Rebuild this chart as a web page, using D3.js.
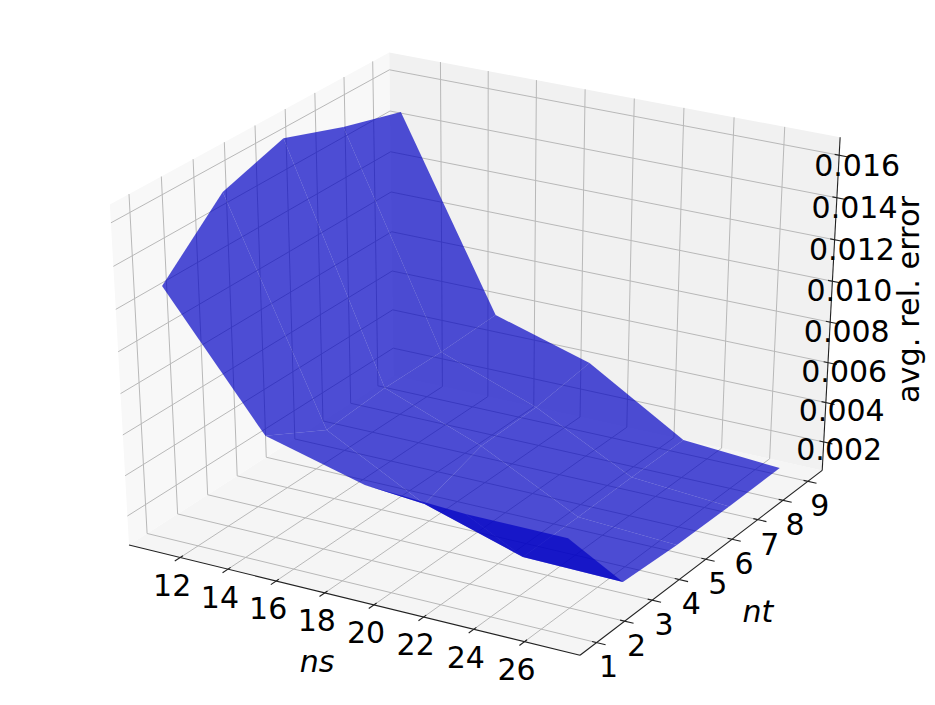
<!DOCTYPE html>
<html><head><meta charset="utf-8">
<script src="https://cdnjs.cloudflare.com/ajax/libs/d3/7.8.5/d3.min.js"></script>
<style>html,body{margin:0;padding:0;background:#fff}svg{display:block}text{font-family:"DejaVu Sans";fill:#000}</style>
</head><body><svg id="c" width="935" height="705"></svg>
<script>
// Data
const nsValues = [11, 15, 19, 23, 27];
const ntValues = [1, 3, 5, 7, 9];
const errorRow1 = [0.01288, 0.00681, 0.00554, 0.00527, 0.00526];
const errorRow3 = [0.01559, 0.00522, 0.00266, 0.00117, 0.00110];
const errorRow5 = [0.01650, 0.00545, 0.00363, 0.00118, 0.00092];
const errorRow7 = [0.01548, 0.00544, 0.00371, 0.00125, 0.00088];
const errorRow9 = [0.01466, 0.00554, 0.00413, 0.00125, 0.00090];
const errors = [errorRow1, errorRow3, errorRow5, errorRow7, errorRow9];
const nsTicks = [12, 14, 16, 18, 20, 22, 24, 26];
const ntTicks = [1, 2, 3, 4, 5, 6, 7, 8, 9];
const zTicks = [0.002, 0.004, 0.006, 0.008, 0.010, 0.012, 0.014, 0.016];

// Axis limits -> unit cube
const xS = d3.scaleLinear().domain([10.2, 27.8]).range([0, 1]);
const yS = d3.scaleLinear().domain([0.6, 9.4]).range([0, 1]);
const zS = d3.scaleLinear().domain([0.00087, 0.01651]).range([0, 1]);
const LO = -1 / 48, HI = 49 / 48;

// Perspective camera: elev 30, azim -60, dist 10
const el = 30 * Math.PI / 180, az = -60 * Math.PI / 180, dist = 10;
const n = [Math.cos(az) * Math.cos(el), Math.sin(az) * Math.cos(el), Math.sin(el)];
const nH = Math.hypot(n[0], n[1]);
const u = [-n[1] / nH, n[0] / nH, 0];
const v = [n[1] * u[2] - n[2] * u[1], n[2] * u[0] - n[0] * u[2], n[0] * u[1] - n[1] * u[0]];
const dot = (a, b) => a[0] * b[0] + a[1] * b[1] + a[2] * b[2];
const sx = d3.scaleLinear().domain([0, 1]).range([481.2, 481.2 + 4997]);
const sy = d3.scaleLinear().domain([0, 1]).range([343.1, 343.1 - 3731]);
function proj(w) {
  const d = [w[0] - .5, w[1] - .5, w[2] - .5];
  const den = dist - dot(n, d);
  return [sx(dot(u, d) / den), sy(dot(v, d) / den), den];
}
const svg = d3.select("#c");
const line = pts => "M" + pts.map(p => { const q = proj(p); return q[0].toFixed(2) + "," + q[1].toFixed(2); }).join("L");

// Panes
const panes = [
  {c: "rgb(245,245,245)", p: [[LO,LO,LO],[HI,LO,LO],[HI,HI,LO],[LO,HI,LO]]},
  {c: "rgb(248,248,248)", p: [[LO,LO,LO],[LO,HI,LO],[LO,HI,HI],[LO,LO,HI]]},
  {c: "rgb(241,241,241)", p: [[LO,HI,LO],[HI,HI,LO],[HI,HI,HI],[LO,HI,HI]]}
];
svg.append("g").selectAll("path").data(panes).join("path")
  .attr("d", d => line(d.p) + "Z").attr("fill", d => d.c);

// Grid
const grid = svg.append("g").attr("fill", "none").attr("stroke", "#b8b8b8").attr("stroke-width", 1);
nsTicks.forEach(t => { const x = xS(t); grid.append("path").attr("d", line([[x,LO,LO],[x,HI,LO],[x,HI,HI]])); });
ntTicks.forEach(t => { const y = yS(t); grid.append("path").attr("d", line([[HI,y,LO],[LO,y,LO],[LO,y,HI]])); });
zTicks.forEach(t => { const z = zS(t); grid.append("path").attr("d", line([[LO,LO,z],[LO,HI,z],[HI,HI,z]])); });

// Axis lines and ticks
const ax = svg.append("g").attr("fill", "none").attr("stroke", "#222").attr("stroke-width", 1.1);
ax.append("path").attr("d", line([[LO,LO,LO],[HI,LO,LO]]));
ax.append("path").attr("d", line([[HI,LO,LO],[HI,HI,LO]]));
ax.append("path").attr("d", line([[HI,HI,LO],[HI,HI,HI]]));
const tOut = 0.02, tIn = 0.01;
nsTicks.forEach(t => { const x = xS(t); ax.append("path").attr("d", line([[x,LO+tIn,LO],[x,LO-tOut,LO]])); });
ntTicks.forEach(t => { const y = yS(t); ax.append("path").attr("d", line([[HI-tIn,y,LO],[HI+tOut,y,LO]])); });
zTicks.forEach(t => { const z = zS(t); ax.append("path").attr("d", line([[HI-tIn,HI,z],[HI+tOut,HI,z]])); });

// Tick labels
const FS = 30;
const label = (txt, x, y) => svg.append("text").attr("x", x).attr("y", y).attr("dy", "0.364em")
  .attr("text-anchor", "middle").attr("font-size", FS).text(txt);
nsTicks.forEach(t => { const q = proj([xS(t), LO, LO]); label(d3.format("d")(t), q[0] - 8, q[1] + 27.5); });
ntTicks.forEach(t => { const q = proj([HI, yS(t), LO]); label(d3.format("d")(t), q[0] + 12, q[1] + 24); });
const zPadX = d3.scaleLinear().domain([0.002, 0.016]).range([15.5, 18]);
const zPadY = d3.scaleLinear().domain([0.002, 0.016]).range([7.5, 10]);
zTicks.forEach(t => { const q = proj([HI, HI, zS(t)]); label(d3.format(".3f")(t), q[0] + zPadX(t), q[1] + zPadY(t)); });

// Axis titles
label("ns", 317, 661).attr("font-style", "italic");
label("nt", 758, 611).attr("font-style", "italic");
svg.append("text").attr("transform", "translate(910,299.5) rotate(-90)").attr("dy", "0.3em")
  .attr("text-anchor", "middle").attr("font-size", 30.4).text("avg. rel. error");

// Surface
const faces = [];
for (let j = 0; j < ntValues.length - 1; j++) for (let i = 0; i < nsValues.length - 1; i++) {
  const pts = [[i,j],[i+1,j],[i+1,j+1],[i,j+1]].map(([a,b]) => [xS(nsValues[a]), yS(ntValues[b]), zS(errors[b][a])]);
  faces.push({pts, depth: d3.mean(pts, p => proj(p)[2])});
}
faces.sort((a, b) => d3.descending(a.depth, b.depth));
svg.append("g").selectAll("path").data(faces).join("path")
  .attr("d", d => line(d.pts) + "Z").attr("fill", "rgb(0,0,196)").attr("fill-opacity", 0.69);
</script></body></html>
